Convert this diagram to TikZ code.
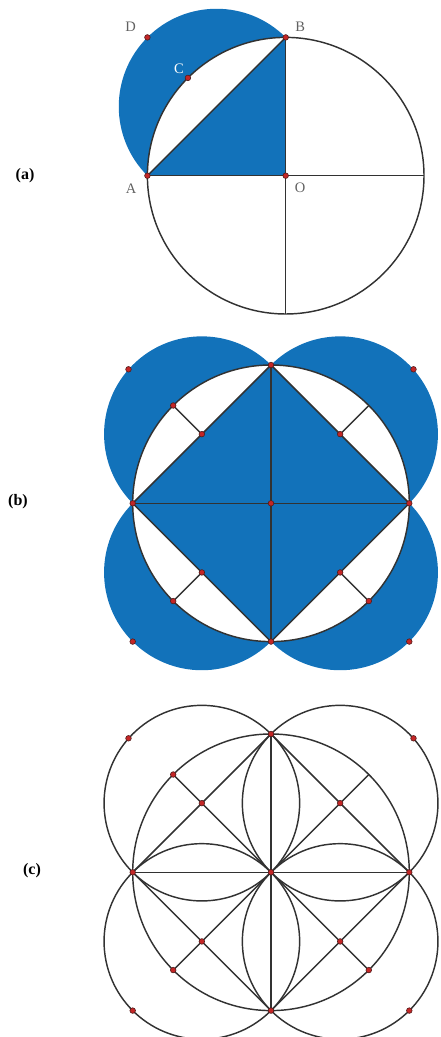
\documentclass[tikz,border=0pt]{standalone}
\usepackage{fontspec}
\setmainfont{Liberation Serif}
\definecolor{fillblue}{RGB}{18,114,186}
\definecolor{linegray}{RGB}{50,50,50}
\definecolor{dotred}{RGB}{196,38,38}
\definecolor{dotedge}{RGB}{80,28,28}
\tikzset{
  geo/.style={draw=linegray, line width=1.45pt},
  pt/.style={circle, fill=dotred, draw=dotedge, line width=0.6pt, inner sep=0pt, minimum size=5.6pt},
  lbl/.style={text=black!62, inner sep=0pt, font=\fontsize{14.5}{15}\selectfont},
  lblw/.style={lbl, text=white},
  panel/.style={inner sep=0pt, font=\bfseries\fontsize{16}{17}\selectfont}
}
\begin{document}
\begin{tikzpicture}[x=1pt,y=1pt]
\useasboundingbox (0,0) rectangle (440,1037);
\def\R{138.3}
\def\r{97.79}

% ---------------- panel (a)
\begin{scope}[shift={(285.7,861.3)}]
  \coordinate (aO) at (0,0);
  \coordinate (aA) at (-\R,0);
  \coordinate (aB) at (0,\R);
  \coordinate (aE) at (\R,0);
  \coordinate (aS) at (0,-\R);
  \coordinate (aC) at (135:\R);
  \coordinate (aD) at (-\R,\R);
  \fill[fillblue] (aA) arc[start angle=225,end angle=45,radius=\r] -- (aO) -- cycle;
  \fill[white] (aA) -- (aB) arc[start angle=90,end angle=180,radius=\R] -- cycle;
  \draw[geo] (aO) circle[radius=\R];
  \draw[geo] (aA) -- (aE);
  \draw[geo] (aB) -- (aS);
  \draw[geo] (aA) -- (aB);
  \foreach \p in {aA,aB,aO,aC,aD} \node[pt] (dot-\p) at (\p) {};
  \node[lbl] (lD) at (-155,148.7) {D};
  \node[lblw] (lC) at (-106.7,106.7) {C};
  \node[lbl] (lB) at (14.6,148.7) {B};
  \node[lbl] (lA) at (-154.7,-13.3) {A};
  \node[lbl] (lO) at (14.3,-12.3) {O};
\end{scope}

% ---------------- panel (b)
\begin{scope}[shift={(271,533.7)}]
  \coordinate (bO) at (0,0);
  \coordinate (bT) at (0,\R);
  \coordinate (bL) at (-\R,0);
  \coordinate (bRt) at (\R,0);
  \coordinate (bBo) at (0,-\R);
  \coordinate (bM1) at (-\R/2,\R/2);
  \coordinate (bM2) at (\R/2,\R/2);
  \coordinate (bM3) at (\R/2,-\R/2);
  \coordinate (bM4) at (-\R/2,-\R/2);
  \coordinate (bC1) at (135:\R);
  \coordinate (bC2) at (45:\R);
  \coordinate (bC3) at (-45:\R);
  \coordinate (bC4) at (-135:\R);
  \coordinate (bD1) at (-142.5,134.0);
  \coordinate (bD2) at (142.5,134.0);
  \coordinate (bD3) at (\R,-\R);
  \coordinate (bD4) at (-\R,-\R);
  \fill[fillblue] (bL) arc[start angle=225,end angle=45,radius=\r]
     arc[start angle=135,end angle=-45,radius=\r]
     arc[start angle=45,end angle=-135,radius=\r]
     arc[start angle=-45,end angle=-225,radius=\r] -- cycle;
  \fill[white, even odd rule] (bO) circle[radius=\R] (bT) -- (bRt) -- (bBo) -- (bL) -- cycle;
  \draw[geo] (bO) circle[radius=\R];
  \draw[geo] (bT) -- (bRt) -- (bBo) -- (bL) -- cycle;
  \draw[geo] (bL) -- (bRt);
  \draw[geo] (bT) -- (bBo);
  \draw[geo] (bC1) -- (bM1);
  \draw[geo] (bC2) -- (bM2);
  \draw[geo] (bC3) -- (bM3);
  \draw[geo] (bC4) -- (bM4);
  \foreach \p in {bT,bL,bRt,bBo,bO,bM1,bM2,bM3,bM4,bC1,bC3,bC4,bD1,bD2,bD3,bD4} \node[pt] (dot-\p) at (\p) {};
\end{scope}

% ---------------- panel (c)
\begin{scope}[shift={(271,164.7)}]
  \coordinate (cO) at (0,0);
  \coordinate (cT) at (0,\R);
  \coordinate (cL) at (-\R,0);
  \coordinate (cRt) at (\R,0);
  \coordinate (cBo) at (0,-\R);
  \coordinate (cM1) at (-\R/2,\R/2);
  \coordinate (cM2) at (\R/2,\R/2);
  \coordinate (cM3) at (\R/2,-\R/2);
  \coordinate (cM4) at (-\R/2,-\R/2);
  \coordinate (cC1) at (135:\R);
  \coordinate (cC2) at (45:\R);
  \coordinate (cC3) at (-45:\R);
  \coordinate (cC4) at (-135:\R);
  \coordinate (cD1) at (-142.5,134.0);
  \coordinate (cD2) at (142.5,134.0);
  \coordinate (cD3) at (\R,-\R);
  \coordinate (cD4) at (-\R,-\R);
  \draw[geo] (cO) circle[radius=\R];
  \draw[geo] (cM1) circle[radius=\r];
  \draw[geo] (cM2) circle[radius=\r];
  \draw[geo] (cM3) circle[radius=\r];
  \draw[geo] (cM4) circle[radius=\r];
  \draw[geo] (cT) -- (cRt) -- (cBo) -- (cL) -- cycle;
  \draw[geo] (cL) -- (cRt);
  \draw[geo] (cT) -- (cBo);
  \draw[geo] (cC1) -- (cC3);
  \draw[geo] (cC2) -- (cC4);
  \foreach \p in {cT,cL,cRt,cBo,cO,cM1,cM2,cM3,cM4,cC1,cC3,cC4,cD1,cD2,cD3,cD4} \node[pt] (dot-\p) at (\p) {};
\end{scope}

\node[panel] (pa) at (25,861) {(a)};
\node[panel] (pb) at (18,535) {(b)};
\node[panel] (pc) at (32,166) {(c)};
\end{tikzpicture}
\end{document}
